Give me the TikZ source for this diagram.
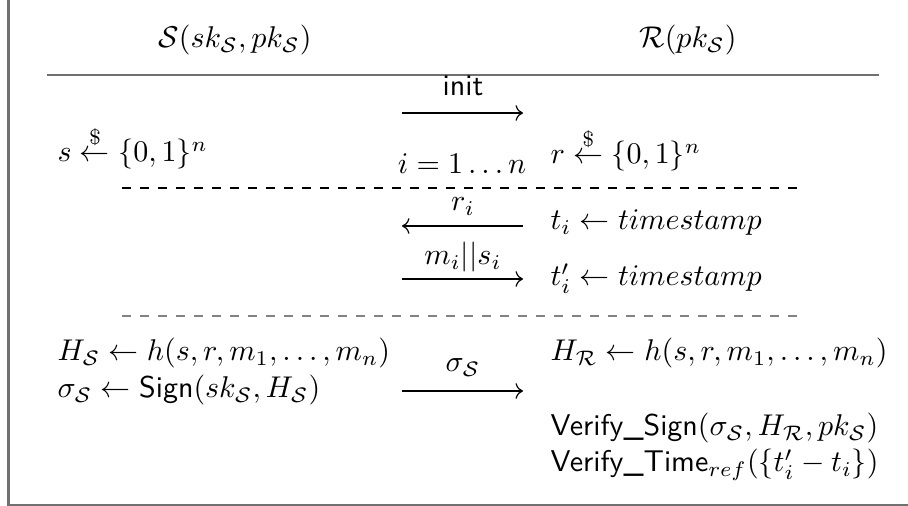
\documentclass[tikz,border=0pt]{standalone}
\usepackage{amsmath}
\usetikzlibrary{arrows.meta}
\definecolor{framegray}{RGB}{112,112,112}
\definecolor{dashgray}{RGB}{130,130,130}
\begin{document}
\begin{tikzpicture}[x=0.33333pt,y=-0.33333pt,
  txt/.style={inner sep=0pt, anchor=base west},
  mid/.style={inner sep=0pt, anchor=base},
  msg/.style={line width=0.4pt, -{Computer Modern Rightarrow}},
  sep/.style={line width=0.4pt, dashed}]
\useasboundingbox (0,0) rectangle (908,506);
% frame
\coordinate (ftop) at (8.5,0);
\coordinate (fcorner) at (8.5,505);
\coordinate (fright) at (908,505);
\draw[framegray, line width=0.7pt] (ftop) -- (fcorner) -- (fright);
% headers
\node[mid] (hS) at (235,48) {$\mathcal{S}(sk_{\mathcal{S}},pk_{\mathcal{S}})$};
\node[mid] (hR) at (688,48) {$\mathcal{R}(pk_{\mathcal{S}})$};
\coordinate (r1) at (47,75);
\coordinate (r2) at (879,75);
\draw[framegray, line width=0.6pt] (r1) -- (r2);
% init
\node[mid] (linit) at (463,96) {\textsf{init}};
\coordinate (i1) at (402,113);
\coordinate (i2) at (523,113);
\draw[msg] (i1) -- (i2);
% random choices
\node[txt] (sdraw) at (57,162) {$s \stackrel{\$}{\leftarrow} \{0,1\}^n$};
\node[mid] (loop) at (462,174) {$i = 1 \ldots n$};
\node[txt] (rdraw) at (550,164) {$r \stackrel{\$}{\leftarrow} \{0,1\}^n$};
\coordinate (d1a) at (122,188);
\coordinate (d1b) at (801,188);
\draw[sep] (d1a) -- (d1b);
% loop messages
\node[mid] (lri) at (463,211) {$r_i$};
\coordinate (ri1) at (523,226);
\coordinate (ri2) at (402,226);
\draw[msg] (ri1) -- (ri2);
\node[txt] (ti) at (550,230) {$t_i \leftarrow timestamp$};
\node[mid] (lms) at (463,265) {$m_i||s_i$};
\coordinate (ms1) at (402,279);
\coordinate (ms2) at (523,279);
\draw[msg] (ms1) -- (ms2);
\node[txt] (tpi) at (550,286) {$t'_i \leftarrow timestamp$};
\coordinate (d2a) at (122,316);
\coordinate (d2b) at (801,316);
\draw[sep, dashgray] (d2a) -- (d2b);
% final
\node[txt] (HS) at (57,361) {$H_{\mathcal{S}} \leftarrow h(s,r,m_1,\ldots,m_n)$};
\node[txt] (sig) at (57,398) {$\sigma_{\mathcal{S}} \leftarrow \textsf{Sign}(sk_{\mathcal{S}},H_{\mathcal{S}})$};
\node[mid] (lsig) at (463,372) {$\sigma_{\mathcal{S}}$};
\coordinate (sg1) at (402,391);
\coordinate (sg2) at (523,391);
\draw[msg] (sg1) -- (sg2);
\node[txt] (HR) at (550,361) {$H_{\mathcal{R}} \leftarrow h(s,r,m_1,\ldots,m_n)$};
\node[txt] (vs) at (550,436) {\textsf{Verify\_Sign}$(\sigma_{\mathcal{S}},H_{\mathcal{R}},pk_{\mathcal{S}})$};
\node[txt] (vt) at (550,472) {\textsf{Verify\_Time}$_{ref}(\{t'_i - t_i\})$};
\end{tikzpicture}
\end{document}
